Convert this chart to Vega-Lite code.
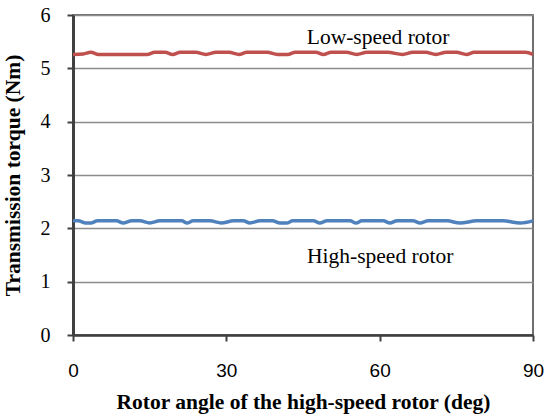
{
  "$schema": "https://vega.github.io/schema/vega-lite/v6.json",
  "width": 460,
  "height": 320,
  "autosize": {"type": "none"},
  "padding": {"left": 73, "top": 15, "right": 14, "bottom": 85},
  "background": "white",
  "config": {
    "view": {"stroke": "#404040", "strokeWidth": 1.5},
    "font": "Liberation Serif"
  },
  "datasets": {
    "torque": [
      {"angle": 0, "torque": 5.26, "rotor": "Low-speed rotor"},
      {"angle": 2, "torque": 5.27, "rotor": "Low-speed rotor"},
      {"angle": 3.5, "torque": 5.3, "rotor": "Low-speed rotor"},
      {"angle": 5, "torque": 5.26, "rotor": "Low-speed rotor"},
      {"angle": 10, "torque": 5.26, "rotor": "Low-speed rotor"},
      {"angle": 14.5, "torque": 5.26, "rotor": "Low-speed rotor"},
      {"angle": 16, "torque": 5.3, "rotor": "Low-speed rotor"},
      {"angle": 18, "torque": 5.3, "rotor": "Low-speed rotor"},
      {"angle": 19.5, "torque": 5.26, "rotor": "Low-speed rotor"},
      {"angle": 21, "torque": 5.3, "rotor": "Low-speed rotor"},
      {"angle": 24, "torque": 5.3, "rotor": "Low-speed rotor"},
      {"angle": 26, "torque": 5.26, "rotor": "Low-speed rotor"},
      {"angle": 28, "torque": 5.3, "rotor": "Low-speed rotor"},
      {"angle": 30.5, "torque": 5.3, "rotor": "Low-speed rotor"},
      {"angle": 32.5, "torque": 5.26, "rotor": "Low-speed rotor"},
      {"angle": 34, "torque": 5.3, "rotor": "Low-speed rotor"},
      {"angle": 38, "torque": 5.3, "rotor": "Low-speed rotor"},
      {"angle": 40, "torque": 5.26, "rotor": "Low-speed rotor"},
      {"angle": 42, "torque": 5.26, "rotor": "Low-speed rotor"},
      {"angle": 43.5, "torque": 5.3, "rotor": "Low-speed rotor"},
      {"angle": 47.5, "torque": 5.3, "rotor": "Low-speed rotor"},
      {"angle": 49, "torque": 5.26, "rotor": "Low-speed rotor"},
      {"angle": 50.5, "torque": 5.3, "rotor": "Low-speed rotor"},
      {"angle": 53.5, "torque": 5.3, "rotor": "Low-speed rotor"},
      {"angle": 55.5, "torque": 5.26, "rotor": "Low-speed rotor"},
      {"angle": 57.5, "torque": 5.3, "rotor": "Low-speed rotor"},
      {"angle": 61.5, "torque": 5.3, "rotor": "Low-speed rotor"},
      {"angle": 64.5, "torque": 5.26, "rotor": "Low-speed rotor"},
      {"angle": 66.5, "torque": 5.3, "rotor": "Low-speed rotor"},
      {"angle": 69, "torque": 5.3, "rotor": "Low-speed rotor"},
      {"angle": 71, "torque": 5.26, "rotor": "Low-speed rotor"},
      {"angle": 73, "torque": 5.3, "rotor": "Low-speed rotor"},
      {"angle": 75, "torque": 5.3, "rotor": "Low-speed rotor"},
      {"angle": 77, "torque": 5.26, "rotor": "Low-speed rotor"},
      {"angle": 78.5, "torque": 5.3, "rotor": "Low-speed rotor"},
      {"angle": 88.5, "torque": 5.3, "rotor": "Low-speed rotor"},
      {"angle": 90, "torque": 5.26, "rotor": "Low-speed rotor"},
      {"angle": 0, "torque": 2.14, "rotor": "High-speed rotor"},
      {"angle": 1, "torque": 2.14, "rotor": "High-speed rotor"},
      {"angle": 2.5, "torque": 2.1, "rotor": "High-speed rotor"},
      {"angle": 3.5, "torque": 2.1, "rotor": "High-speed rotor"},
      {"angle": 4.8, "torque": 2.14, "rotor": "High-speed rotor"},
      {"angle": 8.5, "torque": 2.14, "rotor": "High-speed rotor"},
      {"angle": 9.8, "torque": 2.1, "rotor": "High-speed rotor"},
      {"angle": 11.5, "torque": 2.14, "rotor": "High-speed rotor"},
      {"angle": 13.1, "torque": 2.14, "rotor": "High-speed rotor"},
      {"angle": 15, "torque": 2.1, "rotor": "High-speed rotor"},
      {"angle": 17, "torque": 2.14, "rotor": "High-speed rotor"},
      {"angle": 21.3, "torque": 2.14, "rotor": "High-speed rotor"},
      {"angle": 22.3, "torque": 2.1, "rotor": "High-speed rotor"},
      {"angle": 23.5, "torque": 2.14, "rotor": "High-speed rotor"},
      {"angle": 26.8, "torque": 2.14, "rotor": "High-speed rotor"},
      {"angle": 29, "torque": 2.1, "rotor": "High-speed rotor"},
      {"angle": 31.4, "torque": 2.14, "rotor": "High-speed rotor"},
      {"angle": 33.3, "torque": 2.14, "rotor": "High-speed rotor"},
      {"angle": 34.6, "torque": 2.1, "rotor": "High-speed rotor"},
      {"angle": 36.6, "torque": 2.14, "rotor": "High-speed rotor"},
      {"angle": 39, "torque": 2.14, "rotor": "High-speed rotor"},
      {"angle": 40.5, "torque": 2.1, "rotor": "High-speed rotor"},
      {"angle": 41.8, "torque": 2.1, "rotor": "High-speed rotor"},
      {"angle": 43, "torque": 2.14, "rotor": "High-speed rotor"},
      {"angle": 47, "torque": 2.14, "rotor": "High-speed rotor"},
      {"angle": 48.3, "torque": 2.1, "rotor": "High-speed rotor"},
      {"angle": 49.7, "torque": 2.14, "rotor": "High-speed rotor"},
      {"angle": 54.2, "torque": 2.14, "rotor": "High-speed rotor"},
      {"angle": 55.4, "torque": 2.1, "rotor": "High-speed rotor"},
      {"angle": 56.5, "torque": 2.14, "rotor": "High-speed rotor"},
      {"angle": 60.7, "torque": 2.14, "rotor": "High-speed rotor"},
      {"angle": 62, "torque": 2.1, "rotor": "High-speed rotor"},
      {"angle": 63.4, "torque": 2.14, "rotor": "High-speed rotor"},
      {"angle": 66.5, "torque": 2.14, "rotor": "High-speed rotor"},
      {"angle": 67.9, "torque": 2.1, "rotor": "High-speed rotor"},
      {"angle": 69.5, "torque": 2.14, "rotor": "High-speed rotor"},
      {"angle": 73.2, "torque": 2.14, "rotor": "High-speed rotor"},
      {"angle": 75.7, "torque": 2.1, "rotor": "High-speed rotor"},
      {"angle": 79, "torque": 2.14, "rotor": "High-speed rotor"},
      {"angle": 84.2, "torque": 2.14, "rotor": "High-speed rotor"},
      {"angle": 87.5, "torque": 2.1, "rotor": "High-speed rotor"},
      {"angle": 90, "torque": 2.14, "rotor": "High-speed rotor"}
    ],
    "labels": [
      {"angle": 59.7, "torque": 5.57, "text": "Low-speed rotor"},
      {"angle": 60.1, "torque": 1.46, "text": "High-speed rotor"}
    ]
  },
  "layer": [
    {
      "data": {"name": "torque"},
      "mark": {"type": "line", "strokeWidth": 3.5, "interpolate": "monotone"},
      "encoding": {
        "x": {
          "field": "angle",
          "type": "quantitative",
          "scale": {"domain": [0, 90], "nice": false},
          "axis": {
            "values": [0, 30, 60, 90],
            "title": "Rotor angle of the high-speed rotor (deg)",
            "titleFont": "Liberation Serif",
            "titleFontWeight": "bold",
            "titleFontSize": 21.5,
            "titleColor": "black",
            "titlePadding": 11,
            "labelFont": "Liberation Sans",
            "labelFontSize": 19,
            "labelColor": "black",
            "labelPadding": 20,
            "labelFlush": false,
            "grid": false,
            "domainColor": "#404040",
            "domainWidth": 2.5,
            "tickColor": "#404040",
            "tickWidth": 2,
            "tickSize": 6
          }
        },
        "y": {
          "field": "torque",
          "type": "quantitative",
          "scale": {"domain": [0, 6], "nice": false},
          "axis": {
            "values": [0, 1, 2, 3, 4, 5, 6],
            "title": "Transmission torque (Nm)",
            "titleFont": "Liberation Serif",
            "titleFontWeight": "bold",
            "titleFontSize": 21.5,
            "titleColor": "black",
            "titlePadding": 16,
            "labelFont": "Liberation Serif",
            "labelFontSize": 20,
            "labelColor": "black",
            "labelPadding": 17,
            "labelFlush": false,
            "gridColor": "#8c8c8c",
            "gridWidth": 1.5,
            "domainColor": "#404040",
            "domainWidth": 3,
            "tickColor": "#404040",
            "tickWidth": 2,
            "tickSize": 6
          }
        },
        "color": {
          "field": "rotor",
          "type": "nominal",
          "scale": {"domain": ["Low-speed rotor", "High-speed rotor"], "range": ["#C0504D", "#4F81BD"]},
          "legend": null
        }
      }
    },
    {
      "data": {"name": "labels"},
      "mark": {"type": "text", "font": "Liberation Serif", "fontSize": 21.5, "color": "black", "align": "center", "baseline": "middle"},
      "encoding": {
        "x": {"field": "angle", "type": "quantitative"},
        "y": {"field": "torque", "type": "quantitative"},
        "text": {"field": "text"}
      }
    }
  ]
}
